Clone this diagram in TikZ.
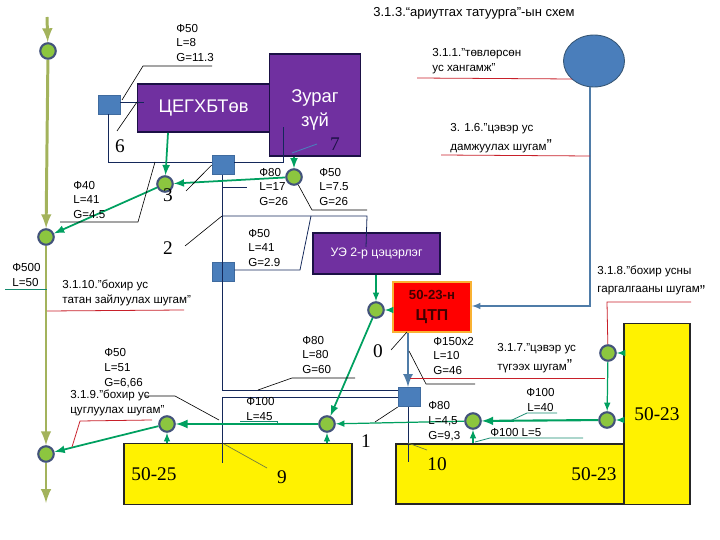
\documentclass[tikz,border=0pt]{standalone}
\usepackage{xcolor}
\usepackage{fontspec}
\usetikzlibrary{shapes.geometric}
\setmainfont{Liberation Sans}
\newfontfamily\numfont{Liberation Serif}
\definecolor{SkPurple}{HTML}{7030A0}
\definecolor{SkEdge}{HTML}{1B1145}
\definecolor{SkBlue}{HTML}{4A7EBB}
\definecolor{SkOlive}{HTML}{A3B35C}
\definecolor{SkGreen}{HTML}{00A060}
\definecolor{SkLime}{HTML}{8CC63F}
\definecolor{SkSteel}{HTML}{4F7CA8}
\definecolor{SkNavy}{HTML}{14285A}
\definecolor{SkRed}{HTML}{C8202A}
\definecolor{SkTeal}{HTML}{158A6E}
\definecolor{SkOrange}{HTML}{F9B233}
\tikzset{
  valve/.style={circle,draw=SkNavy!80,fill=SkLime,line width=1.2pt,minimum size=0.31cm,inner sep=0pt},
  gate/.style={rectangle,fill=SkBlue,draw=SkBlue!85!black,line width=0.3pt,minimum width=0.44cm,minimum height=0.39cm,inner sep=0pt},
  house/.style={rectangle,fill=SkPurple,draw=SkEdge,line width=1.1pt,text=white,inner sep=0pt,align=center},
  block/.style={rectangle,fill=yellow,draw=black!85,line width=1.1pt,inner sep=0pt},
  note/.style={anchor=west,align=left,inner sep=0pt,font=\fontsize{6.6}{8.5}\selectfont},
  wide/.style={anchor=west,align=left,inner sep=0pt,font=\fontsize{6.6}{10.8}\selectfont},
  numlabel/.style={inner sep=0pt,font=\numfont\fontsize{11}{13}\selectfont},
  mainpipe/.style={SkOlive,line width=1.7pt,-latex},
  feed/.style={SkGreen,line width=1pt,-latex},
  feedthin/.style={SkGreen,line width=0.7pt,-latex},
  supply/.style={SkNavy,line width=0.45pt},
  leader/.style={black,line width=0.35pt},
  redtag/.style={SkRed,line width=0.45pt},
  tealtag/.style={SkTeal,line width=0.45pt}
}
\begin{document}
\begin{tikzpicture}[x=0.02cm,y=-0.02cm]
\path[use as bounding box] (0,0) rectangle (720,540);
% buildings
\node[block,minimum width=4.56cm,minimum height=1.22cm] (yellowA) at (238,474) {};
\node[block,minimum width=4.56cm,minimum height=1.20cm] (yellowB) at (510,474) {};
\node[block,minimum width=1.32cm,minimum height=3.62cm] (yellowC) at (657,414) {};
\node[house,minimum width=2.64cm,minimum height=0.96cm,font=\fontsize{10.4}{13}\selectfont] (ceg) at (203.5,108) {ЦЕГХБТөв};
\node[house,minimum width=1.82cm,minimum height=2.04cm,font=\fontsize{10.5}{13.5}\selectfont] (zurag) at (315,105) {\rule{0pt}{13pt}Зураг\\зүй};
\node[house,minimum width=2.54cm,minimum height=0.82cm,font=\fontsize{7}{9}\selectfont] (school) at (376.5,253.5) {УЭ 2-р цэцэрлэг};
\node[rectangle,fill=red,draw=SkOrange,line width=1pt,minimum width=1.56cm,minimum height=1cm,inner sep=0pt,align=center,font=\bfseries,text=black!75!red] (ctp) at (432,307) {{\fontsize{7.5}{10}\selectfont 50-23-н}\\{\fontsize{9}{12}\selectfont ЦТП}};
\node[ellipse,fill=SkBlue,draw=SkSteel!70!black,line width=0.5pt,minimum width=1.22cm,minimum height=1.04cm,inner sep=0pt] (tower) at (594,61) {};
% gates
\node[gate] (gateA) at (109,105) {};
\node[gate] (gateB) at (223,165) {};
\node[gate] (gateC) at (223,272) {};
\node[gate] (gateD) at (409,397) {};
% valves
\node[valve] (valveA) at (48,51) {};
\node[valve] (valveB) at (46,237) {};
\node[valve] (valveC) at (46,454) {};
\node[valve] (valveD) at (165,184) {};
\node[valve] (valveE) at (294,177) {};
\node[valve] (valveF) at (376,310) {};
\node[valve] (valveG) at (608,353) {};
\node[valve] (valveH) at (607,420) {};
\node[valve] (valveJ) at (473,421) {};
\node[valve] (valveK) at (327,424) {};
\node[valve] (valveL) at (167,424) {};
% free ends of the lines
\coordinate (pipeTop) at (47,17);
\coordinate (pipeEnd) at (46,503);
\coordinate (zIn) at (283,127);
\coordinate (supplyKnee) at (222,216);
\coordinate (supplyRight) at (367,216);
\coordinate (returnA) at (222,390);
\coordinate (returnB) at (222,397);
\coordinate (returnEnd) at (222,463);
\coordinate (gateDEnd) at (408,462);
\coordinate (lnA) at (143,66);
\coordinate (lnAe) at (212,66);
\coordinate (six) at (117,131);
\coordinate (sixe) at (137,102);
\coordinate (lnB) at (60,222);
\coordinate (lnBa) at (138,222);
\coordinate (lnBe) at (155,162);
\coordinate (three) at (186,191);
\coordinate (two) at (185,246);
\coordinate (lnC) at (247,187);
\coordinate (lnD) at (312,210);
\coordinate (lnDe) at (367,210);
\coordinate (lnE) at (300,270);
\coordinate (lnEe) at (311,216);
\coordinate (lnF) at (145,396);
\coordinate (lnFa) at (175,396);
\coordinate (lnFe) at (219,420);
\coordinate (lnG) at (258,390);
\coordinate (lnGa) at (292,378);
\coordinate (lnGe) at (355,378);
\coordinate (zero) at (391,350);
\coordinate (zeroe) at (407,332);
\coordinate (lnH) at (409,351);
\coordinate (lnHa) at (426,384);
\coordinate (lnHe) at (475,384);
\coordinate (one) at (375,422);
\coordinate (nine) at (224,444);
\coordinate (ninee) at (267,468);
\coordinate (ten) at (408,443);
\coordinate (tene) at (427,450);
\coordinate (seven) at (317,144);
\coordinate (sevene) at (292,153);
% water lines
\draw[supply] (gateA.east |- 0,102) -- (144,102);
\draw[supply] (108,114) -- (108,162) -- (gateB.west |- 0,162);
\draw[supply] (gateB.east |- 0,162) -- (283,162) -- (zIn);
\draw[supply] (222,175) -- (returnA);
\draw[supply] (returnB) -- (returnEnd);
\draw[supply] (222,187) -- (lnC);
\draw[supply] (supplyKnee) -- (supplyRight) -- (366,247);
\draw[supply] (gateC.east |- 0,270) -- (lnE) -- (lnEe);
\draw[supply] (returnA) -- (gateD.west |- returnA);
\draw[supply] (returnB) -- (gateD.west |- returnB);
\draw[supply] (gateD.south -| gateDEnd) -- (gateDEnd);
\draw[SkSteel,line width=0.7pt,-latex] (tower.south -| 590,0) -- (590,306) -- (ctp.east |- 0,306);
\draw[SkSteel,line width=1.5pt,-latex] (ctp.south -| gateDEnd) -- (gateD.north -| gateDEnd);
% sewer lines
\draw[mainpipe] (pipeTop) -- (valveA);
\draw[mainpipe] (valveA) -- (valveB);
\draw[mainpipe] (valveB) -- (valveC);
\draw[mainpipe] (valveC) -- (pipeEnd);
\draw[feed] (ceg.south -| 168,0) -- (valveD);
\draw[feed] (zurag.south -| valveE) -- (valveE);
\draw[feed] (valveE) -- (valveD);
\draw[feed] (valveD) -- (valveB);
\draw[feedthin] (school.south -| valveF) -- (valveF);
\draw[feedthin] (ctp.west |- valveF) -- (valveF);
\draw[feed] (valveF) -- (valveK);
\draw[feed] (valveL) -- (valveC);
\draw[feed,line width=1.3pt] (valveK) -- (valveL);
\draw[feedthin] (valveJ) -- (valveK);
\draw[feed,line width=1.2pt] (valveH) -- (valveJ);
\draw[feedthin] (valveG) -- (valveH);
\draw[feedthin] (yellowC.west |- valveG) -- (valveG);
\draw[feedthin] (yellowC.west |- valveH) -- (valveH);
\draw[feedthin] (yellowA.north -| valveL) -- (valveL);
\draw[feedthin] (yellowA.north -| valveK) -- (valveK);
\draw[feedthin] (yellowB.north -| valveJ) -- (valveJ);
% leaders
\draw[leader] (122,100) -- (lnA) -- (lnAe);
\draw[leader] (six) -- (sixe);
\draw[leader] (lnB) -- (lnBa) -- (lnBe);
\draw[leader] (three) -- (gateB.west);
\draw[leader] (two) -- (supplyKnee);
\draw[leader] (valveE) -- (lnD) -- (lnDe);
\draw[leader] (lnF) -- (lnFa) -- (lnFe);
\draw[leader] (lnG) -- (lnGa) -- (lnGe);
\draw[leader] (zero) -- (zeroe);
\draw[leader] (lnH) -- (lnHa) -- (lnHe);
\draw[leader] (one) -- (gateD.south west);
\draw[SkOlive!70!black,line width=0.4pt] (nine) -- (ninee);
\draw[SkOlive!70!black,line width=0.4pt] (ten) -- (tene);
\draw[SkBlue,line width=0.5pt] (seven) -- (sevene);
\draw[tealtag] (5,289) -- (47,289);
\draw[tealtag] (240,421) -- (277,421) -- (277,424);
\draw[tealtag] (510,421) -- (527,413) -- (557,413);
\draw[tealtag] (475,442) -- (490,438) -- (583,438);
% captions
\draw[redtag] (417,78) -- (tower.south west |- 0,79);
\draw[redtag] (441,155) -- (590,156);
\draw[redtag] (47,311) -- (184,310);
\draw[redtag] (72,447) -- (80,421) -- (152,420);
\draw[redtag] (410,378) -- (605,378);
\draw[redtag] (valveG) -- (607,302) -- (691,302);
\node[note,font=\fontsize{7.4}{9}\selectfont] (title) at (373,13) {3.1.3.“ариутгах татуурга”-ын схем};
\node[note] (noteA) at (176,43) {Ф50\\L=8\\G=11.3};
\node[note] (noteB) at (73,200) {Ф40\\L=41\\G=4.5};
\node[note] (noteC) at (259,187) {Ф80\\L=17\\G=26};
\node[note] (noteD) at (319,187) {Ф50\\L=7.5\\G=26};
\node[note] (noteE) at (248,248) {Ф50\\L=41\\G=2.9};
\node[note] (noteF) at (12,275) {Ф500\\L=50};
\node[note] (noteG) at (104,368) {Ф50\\L=51\\G=6,66};
\node[note] (noteH) at (302,355) {Ф80\\L=80\\G=60};
\node[note] (noteJ) at (246,409) {Ф100\\L=45};
\node[note] (noteK) at (433,356) {Ф150х2\\L=10\\G=46};
\node[note] (noteL) at (428,421) {Ф80\\L=4,5\\G=9,3};
\node[note,align=center] (noteM) at (526,400) {Ф100\\L=40};
\node[note] (noteN) at (490,433) {Ф100 L=5};
\node[note] (capA) at (432,61) {3.1.1."төвлөрсөн\\ус хангамж"};
\node[wide] (capB) at (450,138.5) {3. 1.6."цэвэр ус\\дамжуулах шугам{\fontsize{9}{9}\selectfont ”}};
\node[note] (capC) at (62,293) {3.1.10."бохир ус\\татан зайлуулах шугам"};
\node[note] (capD) at (70,403) {3.1.9."бохир ус\\цуглуулах шугам"};
\node[wide] (capE) at (497,358.5) {3.1.7."цэвэр ус\\түгээх шугам{\fontsize{9}{9}\selectfont ”}};
\node[wide] (capF) at (597,281) {3.1.8."бохир усны\\гаргалгааны шугам\raisebox{-2pt}{\fontsize{9}{9}\selectfont "}};
% numbers
\node[numlabel] (numSix) at (120,146) {6};
\node[numlabel] (numThree) at (168,195) {3};
\node[numlabel] (numTwo) at (168,248) {2};
\node[numlabel,text=SkEdge] (numSeven) at (335,144) {7};
\node[numlabel] (numZero) at (378,351) {0};
\node[numlabel] (numOne) at (366,441) {1};
\node[numlabel] (numNine) at (282,477) {9};
\node[numlabel] (numTen) at (437,464) {10};
\node[numlabel] (nameA) at (154,474) {50-25};
\node[numlabel] (nameB) at (594,474) {50-23};
\node[numlabel] (nameC) at (657,414) {50-23};
\end{tikzpicture}
\end{document}
